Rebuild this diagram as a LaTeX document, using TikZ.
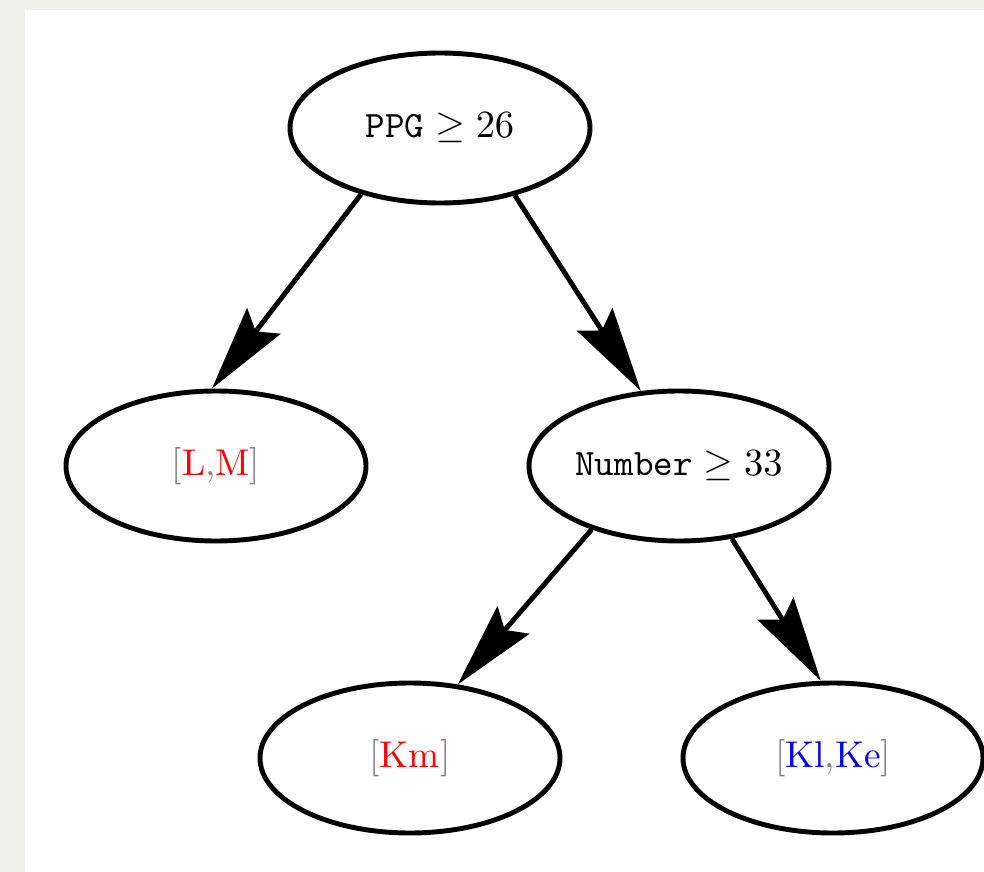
\documentclass[tikz,border=0pt]{standalone}
\usepackage{color}
\usepackage{tikz}
\usetikzlibrary{positioning}
\usetikzlibrary{arrows.meta,shapes.geometric}

\definecolor{pagegray}{RGB}{239,240,235}
\definecolor{bracketgray}{RGB}{128,128,128}

\begin{document}
\begin{tikzpicture}[>={Stealth[length=8.5mm,width=4.2mm,inset=1.3mm]},line width=1.4pt,node distance=3.38cm,
    split/.style={ellipse,draw,minimum width=3cm,minimum height=1.5cm,inner sep=0pt,font=\fontsize{10.6}{12}\selectfont}]
  \useasboundingbox[fill=pagegray] (0,0) rectangle (9.84,-8.72);
  \fill[white] (0.25,-0.10) rectangle (9.84,-8.72);

  \node[split] (PPG)    at (4.40,-1.28)                                        {$\texttt{PPG} \geq 26$};
  \node[split] (LM)     [below of=PPG, xshift=-2.24cm]                        {\textcolor{bracketgray}{[}\textcolor{red}{L}\textcolor{bracketgray}{,}\textcolor{red}{M}\textcolor{bracketgray}{]}};
  \node[split] (Number) [below of=PPG, xshift=2.39cm]                         {$\texttt{Number} \geq 33$};
  \node[split] (Km)     [below of=Number, node distance=2.92cm, xshift=-2.69cm] {\textcolor{bracketgray}{[}\textcolor{red}{Km}\textcolor{bracketgray}{]}};
  \node[split] (KlKe)   [below of=Number, node distance=2.92cm, xshift=1.54cm]  {\textcolor{bracketgray}{[}\textcolor{blue}{Kl}\textcolor{bracketgray}{,}\textcolor{blue}{Ke}\textcolor{bracketgray}{]}};

  \path[->]
       (PPG.220.7) edge (LM.93)
       (PPG.318)   edge (Number.117)
    (Number.216.8) edge (Km.57)
    (Number.306.5) edge (KlKe.99);
\end{tikzpicture}
\end{document}
